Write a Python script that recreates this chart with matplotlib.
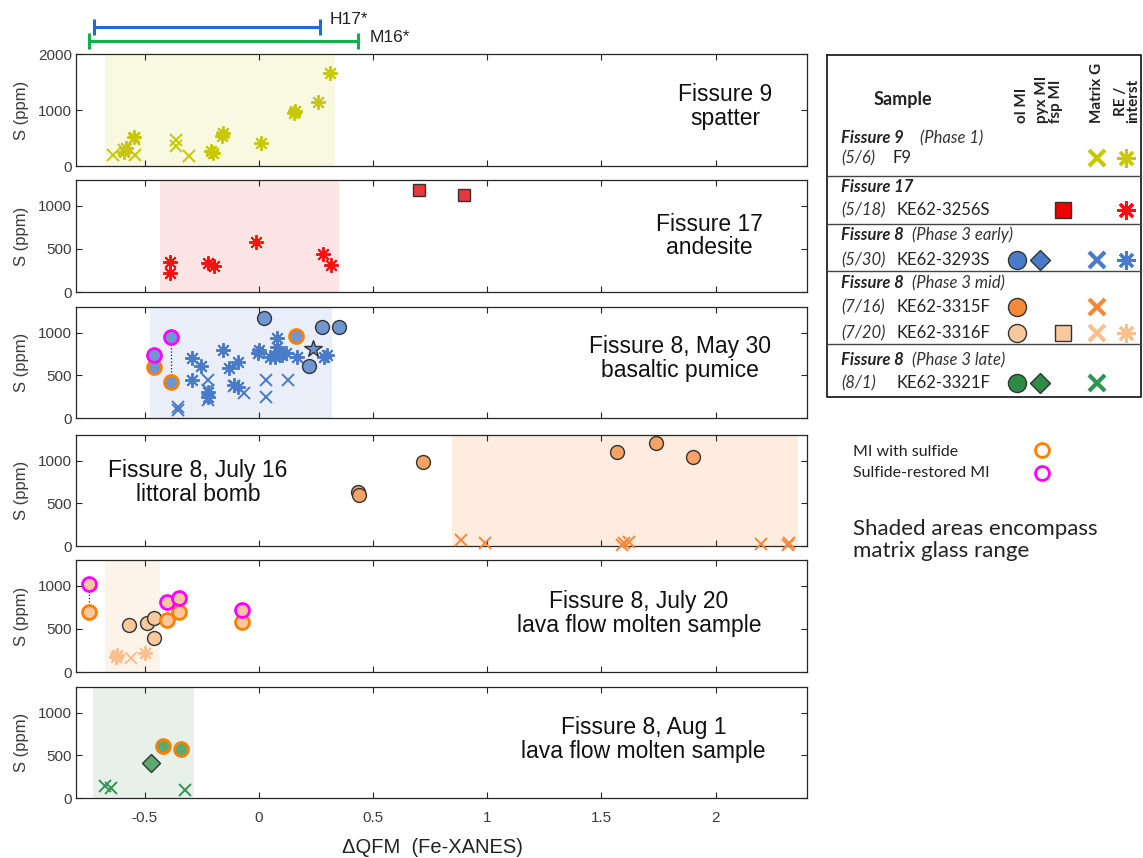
import matplotlib
matplotlib.use('Agg')
import matplotlib.pyplot as plt
from matplotlib.transforms import blended_transform_factory

plt.rcParams['font.family'] = ['Liberation Sans', 'DejaVu Sans']

# ---- colours ----
YEL = '#c8c800'
RED = '#ff1010'
RED_FILL = '#e8383a'
BLUE = '#4a7bc8'
BLUE_FILL = '#7096d2'
ORANGE = '#f4883a'
ORANGE_FILL = '#f6a264'
LORANGE = '#f9bf8c'
LORANGE_FILL = '#f9c89c'
GREEN = '#2e9650'
GREEN_FILL = '#5ea96d'
EDGE = '#333333'
SULF = '#ff8000'
REST = '#ff00ff'
AX_COL = '#262626'
ASTER = (8, 2, 0)

# ---- data ----
# literature fO2 ranges drawn above top panel
h17_range = [-0.72, 0.27]
m16_range = [-0.745, 0.434]

# Fissure 9 spatter
f9_mg_x = [-0.636, -0.54, -0.548, -0.364, -0.364, -0.307, -0.59]
f9_mg_y = [196, 196, 480, 470, 350, 180, 290]
f9_re_x = [-0.59, -0.583, -0.548, -0.20, -0.21, -0.158, -0.16, 0.009, 0.155, 0.16, 0.26, 0.313]
f9_re_y = [250, 330, 520, 240, 270, 590, 530, 410, 950, 990, 1150, 1660]
f9_span = [-0.671, 0.333]

# Fissure 17 andesite
f17_re_x = [-0.39, -0.39, -0.224, -0.197, -0.013, 0.28, 0.316]
f17_re_y = [348, 220, 337, 300, 580, 440, 313]
f17_fsp_x = [0.70, 0.90]
f17_fsp_y = [1184, 1126]
f17_span = [-0.434, 0.352]

# Fissure 8, May 30
m30_ol_x = [0.024, 0.22, 0.276, 0.351]
m30_ol_y = [1171, 609, 1066, 1066]
m30_sulf_x = [-0.46, -0.382, 0.162]
m30_sulf_y = [597, 422, 960]
m30_rest_x = [-0.46, -0.382]
m30_rest_y = [738, 949]
m30_pyx_x = [0.237]
m30_pyx_y = [808]
m30_mg_x = [-0.355, -0.355, -0.224, -0.224, -0.224, -0.11, -0.066, 0.03, 0.03, 0.126]
m30_mg_y = [129, 90, 445, 328, 211, 380, 293, 445, 246, 445]
m30_re_x = [-0.46, -0.294, -0.294, -0.254, -0.22, -0.22, -0.158, -0.13, -0.092, -0.11,
            -0.092, 0.0, -0.004, 0.08, 0.08, 0.07, 0.09, 0.1, 0.05, 0.12, 0.167, 0.285, 0.30]
m30_re_y = [620, 703, 445, 609, 246, 300, 796, 586, 656, 387,
            363, 796, 761, 937, 832, 720, 750, 740, 720, 760, 714, 714, 740]
m30_span = [-0.478, 0.32]

# Fissure 8, July 16
j16_ol_x = [0.434, 0.44, 0.72, 1.57, 1.737, 1.90]
j16_ol_y = [632, 597, 984, 1100, 1206, 1042]
j16_mg_x = [0.886, 0.99, 1.588, 1.60, 1.62, 2.197, 2.316, 2.32]
j16_mg_y = [70, 35, 12, 40, 50, 23, 12, 30]
j16_span = [0.846, 2.36]

# Fissure 8, July 20
j20_ol_x = [-0.566, -0.491, -0.46, -0.46]
j20_ol_y = [546, 569, 627, 395]
j20_sulf_x = [-0.745, -0.40, -0.35, -0.075]
j20_sulf_y = [696, 604, 696, 580]
j20_rest_x = [-0.745, -0.40, -0.35, -0.075]
j20_rest_y = [1021, 812, 859, 720]
j20_re_x = [-0.627, -0.62, -0.50]
j20_re_y = [174, 200, 220]
j20_mg_x = [-0.56]
j20_mg_y = [162]
j20_span = [-0.671, -0.434]

# Fissure 8, Aug 1
a1_sulf_x = [-0.417, -0.342]
a1_sulf_y = [609, 574]
a1_pyx_x = [-0.47]
a1_pyx_y = [410]
a1_mg_x = [-0.675, -0.645, -0.325]
a1_mg_y = [140, 117, 94]
a1_span = [-0.724, -0.285]

panel_labels = ['Fissure 9\nspatter', 'Fissure 17\nandesite', 'Fissure 8, May 30\nbasaltic pumice',
                'Fissure 8, July 16\nlittoral bomb', 'Fissure 8, July 20\nlava flow molten sample',
                'Fissure 8, Aug 1\nlava flow molten sample']
label_pos = [(0.888, 0.53), (0.867, 0.50), (0.826, 0.54), (0.167, 0.57), (0.77, 0.52), (0.776, 0.53)]
span_cols = ['#f9f9e1', '#fde5e5', '#e9eef8', '#fdecdf', '#fdf3e9', '#e7f1e9']
spans = [f9_span, f17_span, m30_span, j16_span, j20_span, a1_span]

W, H = 1143, 858
fig = plt.figure(figsize=(W / 100, H / 100), dpi=100)

panel_px = [(54, 166), (180, 292), (307, 418), (435, 546), (560, 672), (687, 798)]
axes = []
for top, bot in panel_px:
    ax = fig.add_axes([76 / W, 1 - bot / H, 731 / W, (bot - top) / H])
    axes.append(ax)


def circles(ax, x, y, fill, edge=EDGE, mew=1.0):
    ax.plot(x, y, 'o', ms=10, mfc=fill, mec=edge, mew=mew, ls='none', clip_on=False, zorder=4)


def crosses(ax, x, y, col):
    ax.plot(x, y, 'x', ms=8.5, mec=col, mew=1.4, ls='none', clip_on=False, zorder=3)


def asterisks(ax, x, y, col):
    ax.plot(x, y, marker=ASTER, ms=10.5, mec=col, mew=1.4, ls='none', clip_on=False, zorder=3)


for i, ax in enumerate(axes):
    ax.set_xlim(-0.8, 2.4)
    ax.axvspan(spans[i][0], spans[i][1], color=span_cols[i], lw=0, zorder=0)
    if i == 0:
        ax.set_ylim(0, 2000)
        ax.set_yticks([0, 1000, 2000])
    else:
        ax.set_ylim(0, 1300)
        ax.set_yticks([0, 500, 1000])
    ax.set_xticks([-0.5, 0, 0.5, 1, 1.5, 2])
    ax.tick_params(direction='in', top=True, right=True, length=4, width=0.8,
                   colors=AX_COL, labelsize=11, labelcolor='#3c3c3c')
    ax.tick_params(axis='x', pad=9)
    ax.tick_params(axis='y', pad=3)
    if i < 5:
        ax.set_xticklabels([])
    else:
        ax.set_xticklabels(['-0.5', '0', '0.5', '1', '1.5', '2'])
    for s in ax.spines.values():
        s.set_color(AX_COL)
        s.set_linewidth(0.9)
    ax.set_ylabel('S (ppm)', fontsize=12, color='#3c3c3c', labelpad=6)
    ax.text(label_pos[i][0], label_pos[i][1], panel_labels[i], transform=ax.transAxes,
            ha='center', va='center', fontsize=16.5, color='#111111', linespacing=1.05, zorder=6)

# Fissure 9
ax = axes[0]
crosses(ax, f9_mg_x, f9_mg_y, YEL)
asterisks(ax, f9_re_x, f9_re_y, YEL)
tr = blended_transform_factory(ax.transData, ax.transAxes)
ax.plot(h17_range, [1.241, 1.241], '-', color='#1f6fc8', lw=2.2, marker='|', ms=11, mew=2.2,
        transform=tr, clip_on=False)
ax.plot(m16_range, [1.116, 1.116], '-', color='#12b04a', lw=2.2, marker='|', ms=11, mew=2.2,
        transform=tr, clip_on=False)
ax.text(h17_range[1] + 0.04, 1.31, 'H17*', transform=tr, fontsize=12.5, color='#222222', va='center')
ax.text(m16_range[1] + 0.05, 1.15, 'M16*', transform=tr, fontsize=12.5, color='#222222', va='center')

# Fissure 17
ax = axes[1]
asterisks(ax, f17_re_x, f17_re_y, RED)
ax.plot(f17_fsp_x, f17_fsp_y, 's', ms=9, mfc=RED_FILL, mec=EDGE, mew=1, ls='none', zorder=4)

# May 30
ax = axes[2]
crosses(ax, m30_mg_x, m30_mg_y, BLUE)
asterisks(ax, m30_re_x, m30_re_y, BLUE)
ax.plot([m30_sulf_x[1], m30_rest_x[1]], [m30_sulf_y[1], m30_rest_y[1]], ':', color='#222222', lw=0.9, zorder=3)
circles(ax, m30_ol_x, m30_ol_y, BLUE_FILL)
circles(ax, m30_sulf_x, m30_sulf_y, BLUE_FILL, SULF, 2)
circles(ax, m30_rest_x, m30_rest_y, BLUE_FILL, REST, 2)
ax.plot(m30_pyx_x, m30_pyx_y, '*', ms=13, mfc=BLUE_FILL, mec=EDGE, mew=1, ls='none', zorder=4)

# July 16
ax = axes[3]
crosses(ax, j16_mg_x, j16_mg_y, ORANGE)
circles(ax, j16_ol_x, j16_ol_y, ORANGE_FILL)

# July 20
ax = axes[4]
crosses(ax, j20_mg_x, j20_mg_y, LORANGE)
asterisks(ax, j20_re_x, j20_re_y, LORANGE)
ax.plot([j20_sulf_x[0], j20_rest_x[0]], [j20_sulf_y[0], j20_rest_y[0]], ':', color='#222222', lw=0.9, zorder=3)
circles(ax, j20_ol_x, j20_ol_y, LORANGE_FILL)
circles(ax, j20_sulf_x, j20_sulf_y, LORANGE_FILL, SULF, 2)
circles(ax, j20_rest_x, j20_rest_y, LORANGE_FILL, REST, 2)

# Aug 1
ax = axes[5]
crosses(ax, a1_mg_x, a1_mg_y, GREEN)
ax.plot(a1_pyx_x, a1_pyx_y, 'D', ms=9, mfc=GREEN_FILL, mec=EDGE, mew=1, ls='none', zorder=4)
circles(ax, a1_sulf_x, a1_sulf_y, GREEN_FILL, SULF, 2)
ax.set_xlabel('\u0394QFM  (Fe-XANES)', fontsize=14.5, color='#222222')
ax.xaxis.set_label_coords(0.488, -0.36)

# ---- legend table (pixel coordinates) ----
lg = fig.add_axes([0, 0, 1, 1])
lg.set_xlim(0, W)
lg.set_ylim(H, 0)
lg.axis('off')
LF = ['Lato', 'DejaVu Sans']
TC = '#222222'
lg.plot([827, 1141, 1141, 827, 827], [55, 55, 397, 397, 55], color='#222222', lw=1.3)
for yy in [176, 224, 271, 344]:
    lg.plot([827, 1141], [yy, yy], color='#444444', lw=1.0)
lg.text(903, 100, 'Sample', fontsize=13, fontweight='bold', family=LF, color=TC, ha='center', va='center')
for xx, lab in [(1022, 'ol MI'), (1042, 'pyx MI'), (1056, 'fsp MI'), (1097, 'Matrix G'),
                (1127, 'RE /\ninterst')]:
    lg.text(xx, 123, lab, rotation=90, fontsize=11, fontweight='bold', family=LF, color=TC,
            ha='center', va='bottom', linespacing=0.85)

head_rows = [(138, 'Fissure 9', '(Phase 1)', 920), (187, 'Fissure 17', '', 0),
             (235, 'Fissure 8', '(Phase 3 early)', 912), (283, 'Fissure 8', '(Phase 3 mid)', 912),
             (360, 'Fissure 8', '(Phase 3 late)', 912)]
for yy, a, b, bx in head_rows:
    lg.text(841, yy, a, fontsize=12, fontweight='bold', style='italic', family=LF, color=TC, va='center')
    if b:
        lg.text(bx, yy, b, fontsize=12, style='italic', family=LF, color='#333333', va='center')

sample_rows = [(158, '(5/6)', 'F9', 892), (210, '(5/18)', 'KE62-3256S', 897),
               (260, '(5/30)', 'KE62-3293S', 897), (307, '(7/16)', 'KE62-3315F', 897),
               (333, '(7/20)', 'KE62-3316F', 897), (383, '(8/1)', 'KE62-3321F', 897)]
for yy, a, b, bx in sample_rows:
    lg.text(841, yy, a, fontsize=12, style='italic', family=LF, color='#333333', va='center')
    lg.text(bx, yy, b, fontsize=12, family=LF, color=TC, va='center')

# legend symbols
lw_x = dict(ms=11, mew=3, ls='none')
lg.plot([1097], [158], 'x', mec=YEL, **lw_x)
lg.plot([1126], [158], marker=ASTER, mec=YEL, ms=13, mew=2.2, ls='none')
lg.plot([1063], [210], 's', ms=12, mfc='#ee0000', mec=EDGE, mew=1, ls='none')
lg.plot([1126], [210], marker=ASTER, mec=RED, ms=13, mew=2.2, ls='none')
lg.plot([1017], [260], 'o', ms=13, mfc='#4a7bc8', mec=EDGE, mew=1, ls='none')
lg.plot([1040], [260], 'D', ms=10, mfc='#4a7bc8', mec=EDGE, mew=1, ls='none')
lg.plot([1097], [260], 'x', mec=BLUE, **lw_x)
lg.plot([1126], [260], marker=ASTER, mec=BLUE, ms=13, mew=2.2, ls='none')
lg.plot([1017], [307], 'o', ms=13, mfc='#f28a38', mec=EDGE, mew=1, ls='none')
lg.plot([1097], [307], 'x', mec=ORANGE, **lw_x)
lg.plot([1017], [333], 'o', ms=13, mfc=LORANGE_FILL, mec=EDGE, mew=1, ls='none')
lg.plot([1063], [333], 's', ms=12, mfc=LORANGE_FILL, mec=EDGE, mew=1, ls='none')
lg.plot([1097], [333], 'x', mec=LORANGE, **lw_x)
lg.plot([1126], [333], marker=ASTER, mec=LORANGE, ms=13, mew=2.2, ls='none')
lg.plot([1017], [383], 'o', ms=13, mfc='#2e8b45', mec=EDGE, mew=1, ls='none')
lg.plot([1040], [383], 'D', ms=10, mfc='#2e8b45', mec=EDGE, mew=1, ls='none')
lg.plot([1097], [383], 'x', mec=GREEN, **lw_x)

# sulfide notes
lg.text(853, 452, 'MI with sulfide', fontsize=11.5, family=LF, color=TC, va='center')
lg.text(853, 473, 'Sulfide-restored MI', fontsize=11.5, family=LF, color=TC, va='center')
lg.plot([1042], [450], 'o', ms=10, mfc='none', mec=SULF, mew=2, ls='none')
lg.plot([1042], [473], 'o', ms=10, mfc='none', mec=REST, mew=2, ls='none')
lg.text(853, 540, 'Shaded areas encompass\nmatrix glass range', fontsize=16, family=LF,
        color=TC, va='center', linespacing=1.1)

fig.savefig('out.png', dpi=100)
